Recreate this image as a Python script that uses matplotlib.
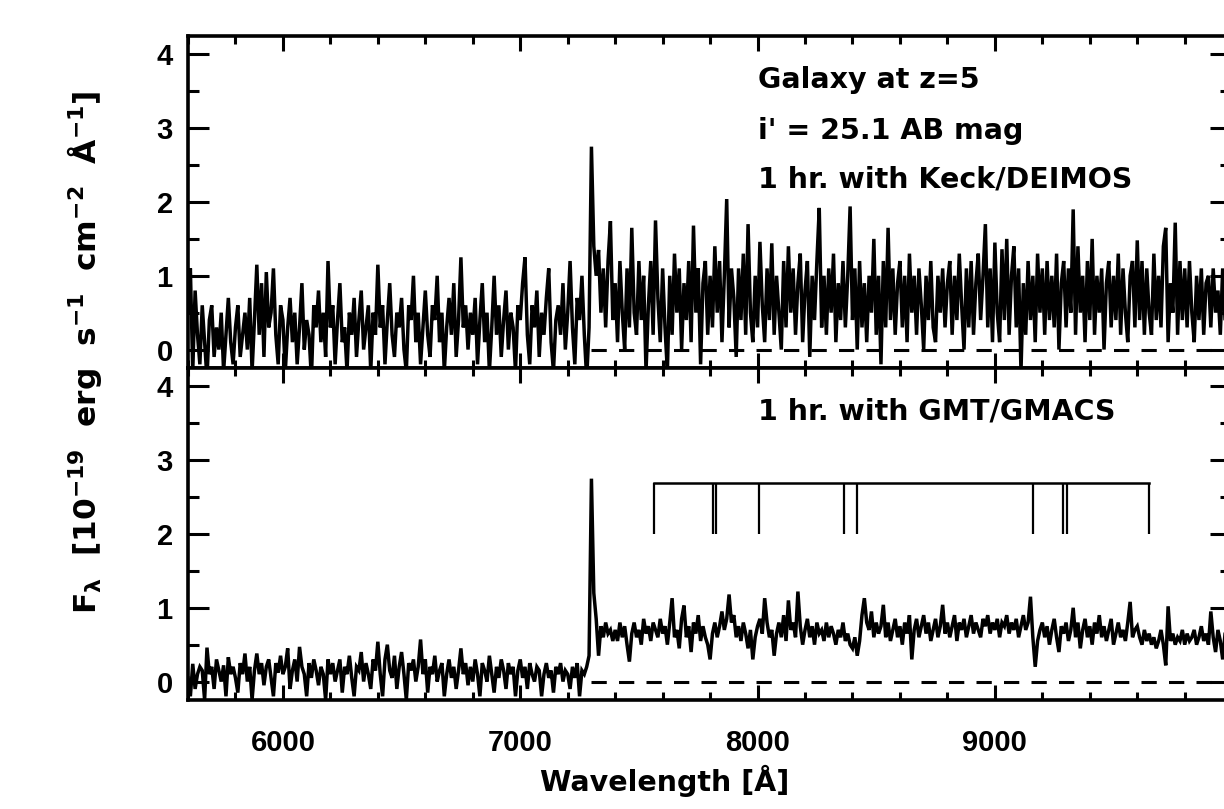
#import libraries
import numpy as np
import matplotlib
matplotlib.use('Agg')
import matplotlib.pyplot as plt
from matplotlib.ticker import MultipleLocator

# spectra, 10 A steps from 5600 A
wave_start, wave_step = 5600, 10

# top panel: Keck/DEIMOS, 1 hr
flux_keck = [
    # 5600 - 7290
    0.5, 1.1, -0.3, 0.8, 0.2, -0.2, 0.6, 0.1, -0.4, 0.4, 0.6, -0.1, 0.3, 0.0, 0.5, -0.3, 0.2, 0.7, 0.1, -0.2,
    0.3, 0.6, -0.1, 0.2, 0.5, 0.0, 0.7, -0.3, 0.4, 1.15, 0.2, 0.9, -0.1, 1.05, 0.3, 0.5, 1.1, 0.2, -0.2, 0.6,
    0.4, -0.3, 0.3, 0.7, 0.1, 0.5, -0.2, 0.3, 0.9, 0.0, 0.4, 0.2, -0.4, 0.6, 0.3, 0.8, 0.1, 0.5, -0.1, 1.2,
    0.3, 0.6, -0.2, 0.4, 0.9, 0.1, 0.3, -0.3, 0.5, 0.2, 0.7, -0.1, 0.4, 0.8, 0.0, 0.3, 0.6, -0.3, 0.5, 0.2,
    1.15, 0.3, 0.6, -0.2, 0.4, 0.9, 0.2, -0.1, 0.5, 0.3, 0.7, 0.0, -0.3, 0.6, 0.4, 1.0, 0.1, 0.5, -0.2, 0.3,
    0.8, 0.2, -0.1, 0.6, 0.4, 1.0, 0.1, 0.5, -0.3, 0.3, 0.7, 0.2, 0.9, -0.1, 0.4, 1.25, 0.3, 0.6, 0.0, 0.5,
    0.2, 0.7, -0.2, 0.4, 0.9, 0.1, 0.5, -0.3, 0.3, 1.0, 0.2, 0.6, -0.1, 0.4, 0.8, 0.0, 0.5, 0.3, -0.3, 0.6,
    0.4, 0.9, 1.25, 0.2, -0.2, 0.6, 0.3, 0.8, -0.1, 0.5, 0.2, 0.7, 1.1, 0.1, -0.3, 0.4, 0.6, 0.2, 0.9, 0.0,
    0.5, 1.2, 0.3, -0.2, 0.7, 0.4, 1.0, 0.2, -0.4, 0.3,
    # 7300 - 10000
    2.75, 1.4, 1.0, 1.35, 0.5, 1.1, 0.3, 1.2, 1.74, 0.4,
    0.9, 0.1, 1.2, 0.5, 0.0, 1.1, 0.3, 1.65, 0.5, 0.2, 1.2, 0.4, 1.0, -0.3, 0.6, 1.2, 0.2, 1.75, 0.7, 0.1,
    1.1, 0.3, -0.3, 1.0, 0.2, 1.3, 0.5, 1.1, 0.0, 0.9, 0.4, 1.2, 0.1, 1.68, 0.5, 1.1, -0.2, 0.9, 1.2, 0.2,
    1.0, 0.3, 1.4, 0.5, 1.2, 0.1, 1.0, 2.04, 0.3, 1.1, 0.7, -0.1, 1.1, 0.4, 1.3, 0.2, 1.7, 0.5, 0.1, 1.0,
    0.3, 1.46, 0.6, 0.1, 1.1, 0.4, 1.44, 0.2, 1.0, 0.5, 0.0, 1.2, 0.3, 1.4, 0.5, 1.1, 0.2, 0.9, 1.3, 0.1,
    0.8, 1.2, -0.1, 1.0, 0.4, 1.2, 1.92, 0.3, 1.0, 0.2, 1.1, 0.5, 1.3, 0.1, 0.9, 0.4, 1.2, 0.3, 1.0, 1.94,
    0.4, 1.1, 0.0, 1.2, 0.3, 0.9, 0.1, 1.0, 0.5, 1.5, 0.2, 1.0, -0.2, 1.2, 0.3, 1.65, 0.4, 1.1, 0.2, 0.9,
    1.2, 0.3, 1.0, 0.1, 1.3, 0.5, 1.0, 0.2, 1.1, 0.6, 0.0, 1.0, 0.4, 1.2, 0.3, 0.1, 1.0, 0.5, 1.1, 0.3,
    0.9, 1.2, 0.2, 1.0, 0.4, 1.3, 0.6, 0.0, 1.1, 0.3, 1.2, 0.2, 0.9, 1.3, 0.4, 1.0, 1.7, 0.3, 1.1, 0.1,
    1.45, 0.5, 0.1, 1.36, 0.4, 1.5, 0.2, 1.0, 1.4, 0.3, 1.1, -0.3, 0.9, 0.2, 1.2, 0.4, 1.0, 0.1, 1.3, 0.5,
    1.1, 0.2, 1.2, 0.4, 1.0, 0.3, 1.3, 0.0, 0.9, 1.2, 0.3, 1.1, 0.5, 1.9, 0.2, 1.4, 0.5, 1.0, 0.1, 1.2,
    0.4, 1.5, 0.2, 1.0, 0.5, 1.1, 0.0, 0.9, 1.2, 0.3, 1.0, 0.4, 1.3, 0.2, 1.1, 0.5, 0.1, 1.0, 1.2, 0.3,
    1.48, 0.4, 1.2, 0.2, 1.1, 0.5, 0.2, 1.3, 0.4, 1.0, 0.3, 1.4, 1.65, 0.1, 0.9, 0.5, 1.72, 0.2, 1.2, 0.4,
    1.1, 0.3, 1.2, 0.5, 0.1, 1.0, 0.4, 1.1, 0.2, 0.9, 1.0, 0.3, 1.1, 0.5, 0.8, 0.2, 1.1, 0.4, 0.9, 0.5, 0.8,
]

# bottom panel: GMT/GMACS, 1 hr
flux_gmt = [
    0.05, -0.2, 0.24, -0.1, 0.1, 0.2, 0.15, -0.25, 0.46, 0.1, 0.2, -0.1, 0.3, 0.15, 0.0, 0.22, -0.2, 0.33, 0.1, 0.2,
    0.05, -0.15, 0.25, 0.1, 0.38, 0.0, 0.2, -0.25, 0.15, 0.38, 0.1, 0.25, -0.05, 0.2, 0.3, 0.05, -0.2, 0.25, 0.12, 0.35,
    0.1, 0.2, 0.45, -0.1, 0.15, 0.3, 0.0, 0.47, 0.2, 0.1, -0.2, 0.25, 0.05, 0.3, 0.15, -0.05, 0.2, 0.1, -0.25, 0.3,
    0.1, 0.25, 0.0, 0.15, 0.3, -0.15, 0.2, 0.1, 0.35, 0.05, -0.2, 0.2, 0.15, 0.4, 0.0, 0.25, 0.1, -0.1, 0.3, 0.15,
    0.54, 0.1, -0.2, 0.3, 0.5, 0.15, 0.05, 0.35, -0.1, 0.2, 0.4, 0.1, -0.25, 0.25, 0.15, 0.3, 0.0, 0.2, 0.57, 0.1,
    0.3, -0.15, 0.2, 0.1, 0.35, 0.0, 0.15, 0.25, -0.2, 0.1, 0.3, 0.05, 0.2, -0.1, 0.15, 0.45, 0.1, 0.25, -0.05, 0.2,
    0.0, 0.3, 0.1, -0.2, 0.25, 0.15, 0.0, 0.35, 0.1, -0.15, 0.2, 0.05, 0.3, 0.15, -0.1, 0.25, 0.1, 0.2, -0.2, 0.15,
    0.3, 0.05, 0.2, -0.1, 0.25, 0.1, 0.0, 0.2, 0.15, -0.2, 0.1, 0.25, 0.05, 0.15, -0.15, 0.2, 0.1, 0.25, 0.0, 0.15,
    0.1, -0.1, 0.2, 0.05, 0.25, -0.2, 0.15, 0.1, 0.2, 0.35,
    2.75, 1.2, 0.85, 0.35, 0.75, 0.6, 0.8, 0.65, 0.7, 0.55,
    0.7, 0.55, 0.8, 0.6, 0.75, 0.5, 0.27, 0.65, 0.8, 0.6, 0.7, 0.5, 0.85, 0.65, 0.75, 0.55, 0.8, 0.7, 0.6, 0.85,
    0.65, 0.75, 0.5, 0.8, 1.13, 0.6, 0.7, 0.45, 0.85, 1.03, 0.6, 0.75, 0.4, 0.8, 0.65, 0.9, 0.55, 0.75, 0.6, 0.5,
    0.3, 0.65, 0.8, 0.6, 0.75, 0.95, 0.7, 0.85, 1.18, 0.8, 0.9, 0.6, 0.75, 0.55, 0.8, 0.65, 0.45, 0.7, 0.3, 0.6,
    0.75, 0.85, 0.65, 1.13, 0.8, 0.6, 0.7, 0.35, 0.65, 0.8, 0.6, 0.9, 0.55, 1.1, 0.7, 0.8, 0.6, 1.22, 0.75, 0.5,
    0.7, 0.85, 0.6, 0.75, 0.5, 0.8, 0.65, 0.7, 0.55, 0.8, 0.6, 0.75, 0.65, 0.5, 0.7, 0.6, 0.8, 0.55, 0.65, 0.5,
    0.45, 0.6, 0.35, 0.55, 0.9, 1.13, 0.8, 0.7, 0.95, 0.6, 0.8, 0.65, 0.75, 1.04, 0.6, 0.8, 0.55, 0.7, 0.85, 0.6,
    0.75, 0.5, 0.8, 0.65, 0.9, 0.3, 0.7, 0.85, 0.6, 0.75, 0.9, 0.65, 0.8, 0.55, 0.7, 0.85, 0.6, 0.75, 1.04, 0.65,
    0.8, 0.6, 0.75, 0.9, 0.55, 0.8, 0.7, 0.85, 0.6, 0.75, 0.9, 0.65, 0.8, 0.7, 0.6, 0.85, 0.75, 0.9, 0.65, 0.8,
    0.7, 0.85, 0.6, 0.8, 0.75, 0.9, 0.65, 0.8, 0.7, 0.85, 0.6, 0.75, 0.9, 0.7, 0.8, 1.15, 0.6, 0.2, 0.55, 0.7,
    0.8, 0.6, 0.75, 0.5, 0.7, 0.85, 0.6, 0.4, 0.75, 0.65, 0.8, 0.55, 0.7, 1.0, 0.6, 0.8, 0.45, 0.7, 0.85, 0.6,
    0.75, 0.5, 0.8, 0.65, 0.9, 0.6, 0.75, 0.55, 0.7, 0.85, 0.5, 0.65, 0.8, 0.6, 0.7, 0.55, 0.8, 1.08, 0.6, 0.7,
    0.75, 0.6, 0.5, 0.7, 0.55, 0.65, 0.5, 0.6, 0.45, 0.55, 0.7, 0.5, 0.22, 1.02, 0.55, 0.65, 0.5, 0.6, 0.55, 0.7,
    0.5, 0.65, 0.55, 0.6, 0.7, 0.5, 0.6, 0.75, 0.55, 0.65, 0.5, 0.95, 0.6, 0.4, 0.7, 0.55, 0.3, 0.65, 0.9, 0.5, 0.6,
]

# absorption line markers (observed wavelength, A)
line_waves = [7562, 7813, 7826, 8007, 8363, 8417, 9160, 9289, 9305, 9651]
line_top = 2.69
line_bottom = 2.0

# zero line starts at Lyman alpha
lya_wave = 7300

panel_texts_top = ['Galaxy at z=5', "i' = 25.1 AB mag", '1 hr. with Keck/DEIMOS']
panel_text_bottom = '1 hr. with GMT/GMACS'

#font setup
plt.rcParams['font.family'] = 'Liberation Sans'
plt.rcParams['font.weight'] = 'bold'
plt.rcParams['mathtext.fontset'] = 'custom'
plt.rcParams['mathtext.rm'] = 'DejaVu Sans:bold'
plt.rcParams['mathtext.it'] = 'DejaVu Sans:bold'
plt.rcParams['mathtext.bf'] = 'DejaVu Sans:bold'
plt.rcParams['mathtext.default'] = 'rm'
tick_fs = 21
txt_fs = 20.5

W, H = 1224, 809
fig = plt.figure(figsize=(W/100, H/100), dpi=100)
left = 188/W
width = 1043/W
ax_top = fig.add_axes([left, 1-368/H, width, 332/H])
ax_bot = fig.add_axes([left, 1-700/H, width, 332/H])


def style_axis(ax):
    ax.set_xlim(5600, 9995)
    ax.set_ylim(-0.25, 4.25)
    ax.xaxis.set_major_locator(MultipleLocator(1000))
    ax.xaxis.set_minor_locator(MultipleLocator(200))
    ax.yaxis.set_major_locator(MultipleLocator(1))
    ax.yaxis.set_minor_locator(MultipleLocator(0.5))
    ax.tick_params(axis='both', which='both', direction='in', top=True, right=True,
                   width=2.2, labelsize=tick_fs)
    ax.tick_params(axis='x', which='major', length=11, pad=21)
    ax.tick_params(axis='x', which='minor', length=6)
    ax.tick_params(axis='y', which='major', length=15, pad=11)
    ax.tick_params(axis='y', which='minor', length=8)
    for s in ax.spines.values():
        s.set_linewidth(2.6)


for ax, flux in [(ax_top, flux_keck), (ax_bot, flux_gmt)]:
    wave = wave_start + wave_step*np.arange(len(flux))
    ax.plot(wave, flux, color='black', lw=2.5, solid_joinstyle='miter')
    zl, = ax.plot([lya_wave, 10000], [0, 0], color='black', lw=2.2)
    zl.set_dashes((5, 4))
    style_axis(ax)

ax_top.tick_params(axis='x', labelbottom=False)

# line markers
ax_bot.plot([line_waves[0], line_waves[-1]], [line_top, line_top], color='black', lw=1.8)
ax_bot.vlines(line_waves, line_bottom, line_top, color='black', lw=1.6)

# labels
text_x = 8000
for txt, yy in zip(panel_texts_top, [3.54, 2.86, 2.19]):
    ax_top.text(text_x, yy, txt, fontsize=txt_fs, family='DejaVu Sans', fontweight='bold', va='baseline')
ax_bot.text(text_x, 3.55, panel_text_bottom, fontsize=txt_fs, family='DejaVu Sans', fontweight='bold', va='baseline')

fig.text(665/W, 1-781/H, 'Wavelength [Å]', fontsize=txt_fs, family='DejaVu Sans',
         fontweight='bold', ha='center', va='center')
fig.text(85/W, 1-352/H, r'F$_\lambda$  [10$^{-19}$  erg  s$^{-1}$  cm$^{-2}$  Å$^{-1}$]',
         rotation=90, fontsize=22.5, family='DejaVu Sans', fontweight='bold', ha='center', va='center')

fig.savefig('out.png', dpi=100)
